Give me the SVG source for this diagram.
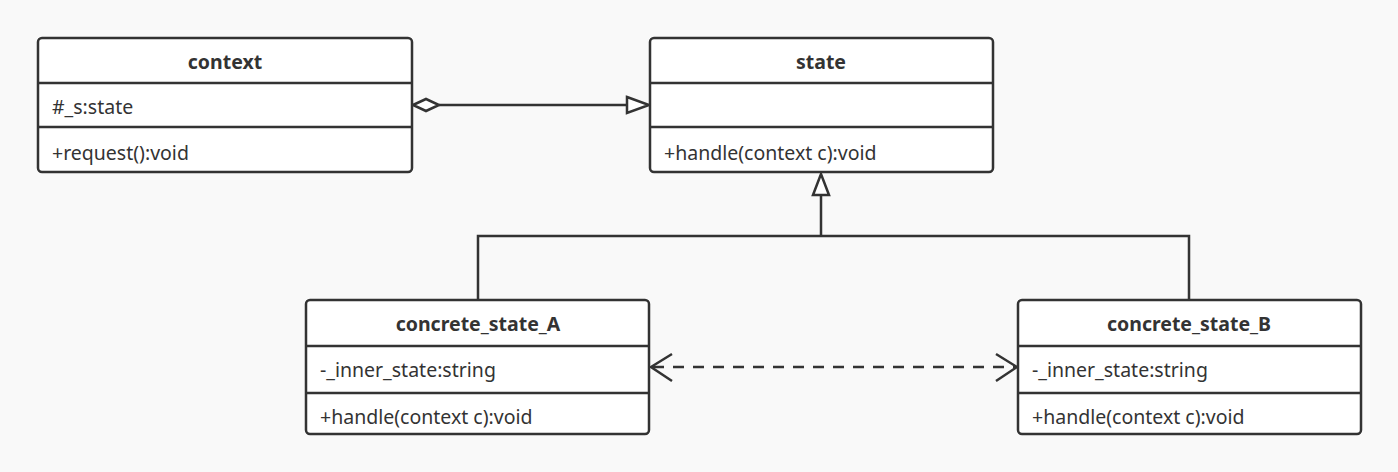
<svg xmlns="http://www.w3.org/2000/svg" width="1398" height="472" viewBox="0 0 1398 472">
<style>
.box{fill:#ffffff;stroke:#333333;stroke-width:2.5}
.div{stroke:#333333;stroke-width:2.5}
.t{font-family:"Noto Sans","Liberation Sans",sans-serif;font-size:19.5px;fill:#333333}
.h{font-family:"Noto Sans","Liberation Sans",sans-serif;font-size:19.5px;font-weight:bold;fill:#333333;text-anchor:middle}
.ln{fill:none;stroke:#333333;stroke-width:2.5}
.dash{fill:none;stroke:#333333;stroke-width:2.5;stroke-dasharray:11 9}
</style>
<rect x="0" y="0" width="1398" height="472" fill="#f9f9f9"/>
<g id="connectors">
  <path class="ln" d="M439,105 H627"/>
  <path class="ln" d="M413,105 L426,99 L439,105 L426,111 Z" style="fill:#ffffff"/>
  <path class="ln" d="M627,97 L649,105 L627,113 Z" style="fill:#ffffff"/>
  <path class="ln" d="M478,300 V236 H1189 V300"/>
  <path class="ln" d="M821,236 V195"/>
  <path class="ln" d="M813,195 L821,174 L829,195 Z" style="fill:#ffffff"/>
  <path class="dash" d="M653,367 H1015"/>
  <path class="ln" d="M672,354 L651,367 L672,381"/>
  <path class="ln" d="M996,354 L1017,367 L996,381"/>
</g>
<g id="context">
  <rect class="box" x="38" y="38" width="374" height="134" rx="4"/>
  <line class="div" x1="38" y1="83" x2="412" y2="83"/>
  <line class="div" x1="38" y1="127" x2="412" y2="127"/>
  <text class="h" x="225" y="69">context</text>
  <text class="t" x="52" y="114">#_s:state</text>
  <text class="t" x="52" y="160">+request():void</text>
</g>
<g id="state">
  <rect class="box" x="650" y="38" width="343" height="134" rx="4"/>
  <line class="div" x1="650" y1="83" x2="993" y2="83"/>
  <line class="div" x1="650" y1="127" x2="993" y2="127"/>
  <text class="h" x="821" y="69">state</text>
  <text class="t" x="664" y="160">+handle(context c):void</text>
</g>
<g id="concrete_state_A">
  <rect class="box" x="306" y="300" width="343" height="134" rx="4"/>
  <line class="div" x1="306" y1="346" x2="649" y2="346"/>
  <line class="div" x1="306" y1="393" x2="649" y2="393"/>
  <text class="h" x="478" y="331">concrete_state_A</text>
  <text class="t" x="320" y="377">-_inner_state:string</text>
  <text class="t" x="320" y="424">+handle(context c):void</text>
</g>
<g id="concrete_state_B">
  <rect class="box" x="1018" y="300" width="343" height="134" rx="4"/>
  <line class="div" x1="1018" y1="346" x2="1361" y2="346"/>
  <line class="div" x1="1018" y1="393" x2="1361" y2="393"/>
  <text class="h" x="1189" y="331">concrete_state_B</text>
  <text class="t" x="1032" y="377">-_inner_state:string</text>
  <text class="t" x="1032" y="424">+handle(context c):void</text>
</g>
</svg>
